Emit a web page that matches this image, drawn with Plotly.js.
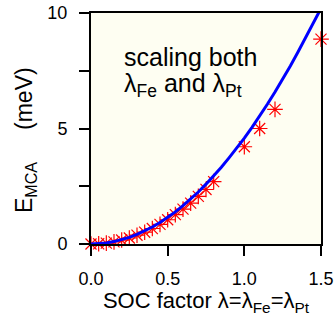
<!DOCTYPE html>
<html>
<head>
<meta charset="utf-8">
<script src="https://cdn.plot.ly/plotly-3.0.1.min.js"></script>
<style>html,body{margin:0;padding:0;background:#fff;}#plot{width:335px;height:316px;}</style>
</head>
<body>
<div id="plot"></div>
<script>
// calculated points (red stars)
const starLambda = [0, 0.05, 0.1, 0.15, 0.2, 0.25, 0.3, 0.35, 0.4, 0.45, 0.5, 0.55, 0.6, 0.65, 0.7, 0.75, 0.8, 1.0, 1.1, 1.2, 1.5];
const starE = [0, 0.01, 0.04, 0.09, 0.17, 0.26, 0.38, 0.51, 0.67, 0.85, 1.05, 1.27, 1.51, 1.77, 2.06, 2.36, 2.70, 4.21, 5.00, 5.83, 8.87];
// fitted curve (blue line)
const curveLambda = [0, 0.05, 0.1, 0.15, 0.2, 0.25, 0.3, 0.35, 0.4, 0.45, 0.5, 0.55, 0.6, 0.65, 0.7, 0.75, 0.8, 0.85, 0.9, 0.95, 1.0, 1.05, 1.1, 1.15, 1.2, 1.25, 1.3, 1.35, 1.4, 1.45, 1.5];
const curveE = [0, 0.012, 0.046, 0.104, 0.184, 0.288, 0.414, 0.564, 0.736, 0.932, 1.15, 1.39, 1.66, 1.94, 2.25, 2.59, 2.94, 3.32, 3.73, 4.15, 4.58, 5.05, 5.54, 6.05, 6.58, 7.13, 7.71, 8.31, 8.93, 9.57, 10.2];
// ticks
const xTickVals = [0, 0.5, 1.0, 1.5];
const xTickText = ["0.0", "0.5", "1.0", "1.5"];
const yTickVals = [0, 2.5, 5, 7.5, 10];
const yTickText = ["0", "", "5", "", "10"];

const font = "Liberation Sans, Arial, sans-serif";

const traces = [
  {
    x: starLambda, y: starE, mode: "markers", type: "scatter",
    marker: {symbol: "asterisk-open", size: 13, color: "#ff0000", line: {color: "#ff0000", width: 1.2}},
    cliponaxis: false, hoverinfo: "skip"
  },
  {
    x: curveLambda, y: curveE, mode: "lines", type: "scatter",
    line: {color: "#0000ff", width: 3}, hoverinfo: "skip"
  }
];

const layout = {
  width: 335, height: 316,
  margin: {l: 91, r: 14, t: 13, b: 72},
  paper_bgcolor: "#ffffff",
  plot_bgcolor: "#fefef2",
  showlegend: false,
  font: {family: font, color: "#000"},
  xaxis: {
    range: [0, 1.5], tickvals: xTickVals, ticktext: xTickText,
    ticks: "outside", ticklen: 10, tickwidth: 2, tickcolor: "#000",
    showline: true, linewidth: 2, linecolor: "#000", mirror: true,
    showgrid: false, zeroline: false, ticklabelstandoff: 7,
    tickfont: {size: 18, family: font},
    title: {text: "SOC factor λ=λ<sub>Fe</sub>=λ<sub>Pt</sub>", font: {size: 22, family: font}, standoff: 9}
  },
  yaxis: {
    range: [0, 10], tickvals: yTickVals, ticktext: yTickText,
    ticks: "outside", ticklen: 10, tickwidth: 2, tickcolor: "#000",
    showline: true, linewidth: 2, linecolor: "#000", mirror: true,
    showgrid: false, zeroline: false, ticklabelstandoff: 8,
    tickfont: {size: 18, family: font}
  },
  annotations: [
    {xref: "paper", yref: "paper", x: 0.135, y: 0.81, xanchor: "left", yanchor: "middle",
     text: "scaling both", showarrow: false, font: {size: 25, family: font, color: "#000"}},
    {xref: "paper", yref: "paper", x: 0.135, y: 0.69, xanchor: "left", yanchor: "middle",
     text: "λ<sub>Fe</sub> and λ<sub>Pt</sub>", showarrow: false, font: {size: 25, family: font, color: "#000"}},
    {xref: "paper", yref: "paper", x: -0.287, y: 0.45, xanchor: "center", yanchor: "middle",
     textangle: -90, text: "E<sub>MCA</sub>\u00a0\u00a0\u00a0\u00a0\u00a0(meV)", showarrow: false,
     font: {size: 23, family: font, color: "#000"}}
  ]
};

Plotly.newPlot("plot", traces, layout, {displayModeBar: false, staticPlot: true});
</script>
</body>
</html>
